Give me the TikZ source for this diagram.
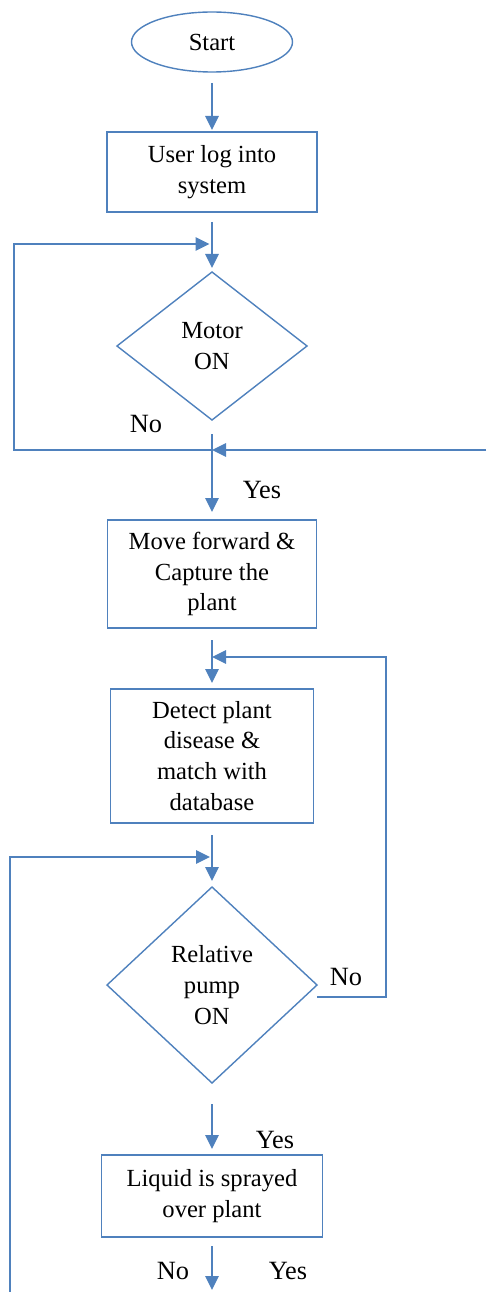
\documentclass[tikz,border=0pt]{standalone}
\usepackage{fontspec}
\setmainfont{Liberation Serif}
\usetikzlibrary{arrows.meta, positioning, shapes.geometric, calc}
\definecolor{flowblue}{HTML}{4F81BD}

\begin{document}
\begin{tikzpicture}[
    node distance=1.2cm,
    every node/.style={font=\fontsize{14pt}{17.6pt}\selectfont},
    term/.style={draw=flowblue, line width=0.8pt, ellipse, inner sep=0pt, outer sep=0pt, minimum width=3.22cm, minimum height=1.2cm},
    proc/.style={draw=flowblue, line width=0.8pt, rectangle, align=center, inner sep=0pt, outer sep=0pt},
    decide/.style={draw=flowblue, line width=0.8pt, diamond, align=center, inner sep=0pt, outer sep=0pt},
    map/.style={-{Triangle[length=0.28cm, width=0.27cm]}, draw=flowblue, line width=0.8pt, shorten <=0.24cm, shorten >=0.12cm},
    loop/.style={-{Triangle[length=0.28cm, width=0.27cm]}, draw=flowblue, line width=0.8pt},
    answer/.style={font=\fontsize{15pt}{17pt}\selectfont}
]
    \useasboundingbox (0,0) rectangle (9.72,-25.84);

    \node[term] (start) at (4.24,-0.84) {Start};
    \node[proc, below=1.2cm of start, minimum width=4.2cm, minimum height=1.6cm] (login) {User log into\\system};
    \node[decide, below=1.2cm of login, minimum width=3.8cm, minimum height=2.96cm] (motor) {Motor\\ON};
    \node[proc, below=2cm of motor, minimum width=4.18cm, minimum height=2.16cm] (move) {Move forward \&\\Capture the\\plant};
    \node[proc, below=1.22cm of move, minimum width=4.06cm, minimum height=2.68cm] (detect) {Detect plant\\disease \&\\match with\\database};
    \node[decide, below=1.28cm of detect, minimum width=4.2cm, minimum height=3.92cm] (pump) {Relative\\pump\\ON};
    \node[proc, below=1.44cm of pump, minimum width=4.42cm, minimum height=1.64cm] (spray) {Liquid is sprayed\\over plant};

    % joints on the main line
    \coordinate (m_in) at ($(login.south)+(0,-0.64)$);
    \coordinate (m_out) at ($(motor.south)+(0,-0.6)$);
    \coordinate (d_in) at ($(move.south)+(0,-0.58)$);
    \coordinate (p_in) at ($(detect.south)+(0,-0.68)$);
    \coordinate (rightEdge) at ($(m_out)+(5.48,0)$);
    \coordinate (leftEnd) at (0.2,-25.84);
    \coordinate (sprayOut) at (4.24,-25.8);

    \draw[map, shorten <=0.22cm, shorten >=0.04cm] (start) -- (login);
    \draw[map, shorten <=0.2cm, shorten >=0.08cm] (login) -- (motor);
    \draw[map, shorten <=0.28cm, shorten >=0.16cm] (motor) -- (move);
    \draw[map] (move) -- (detect);
    \draw[map] (detect) -- (pump);
    \draw[map, shorten <=0.42cm] (pump) -- (spray);
    \draw[map, shorten <=0.18cm, shorten >=0cm] (spray) -- (sprayOut);

    % loops back
    \draw[loop, shorten >=0.05cm] (m_out) -| ([xshift=-3.96cm]m_in) -- (m_in);
    \draw[loop] (rightEdge) -- (m_out);
    \draw[loop] ([yshift=-0.24cm]pump.east) -| ([xshift=3.48cm]d_in) -- (d_in);
    \draw[loop, shorten >=0.04cm] (leftEnd) |- (p_in);

    \node[answer] (motorNo) at (2.92,-8.48) {No};
    \node[answer] (motorYes) at (5.24,-9.8) {Yes};
    \node[answer] (pumpNo) at (6.92,-19.54) {No};
    \node[answer] (pumpYes) at (5.5,-22.8) {Yes};
    \node[answer] (sprayNo) at (3.46,-25.42) {No};
    \node[answer] (sprayYes) at (5.76,-25.42) {Yes};
\end{tikzpicture}
\end{document}
